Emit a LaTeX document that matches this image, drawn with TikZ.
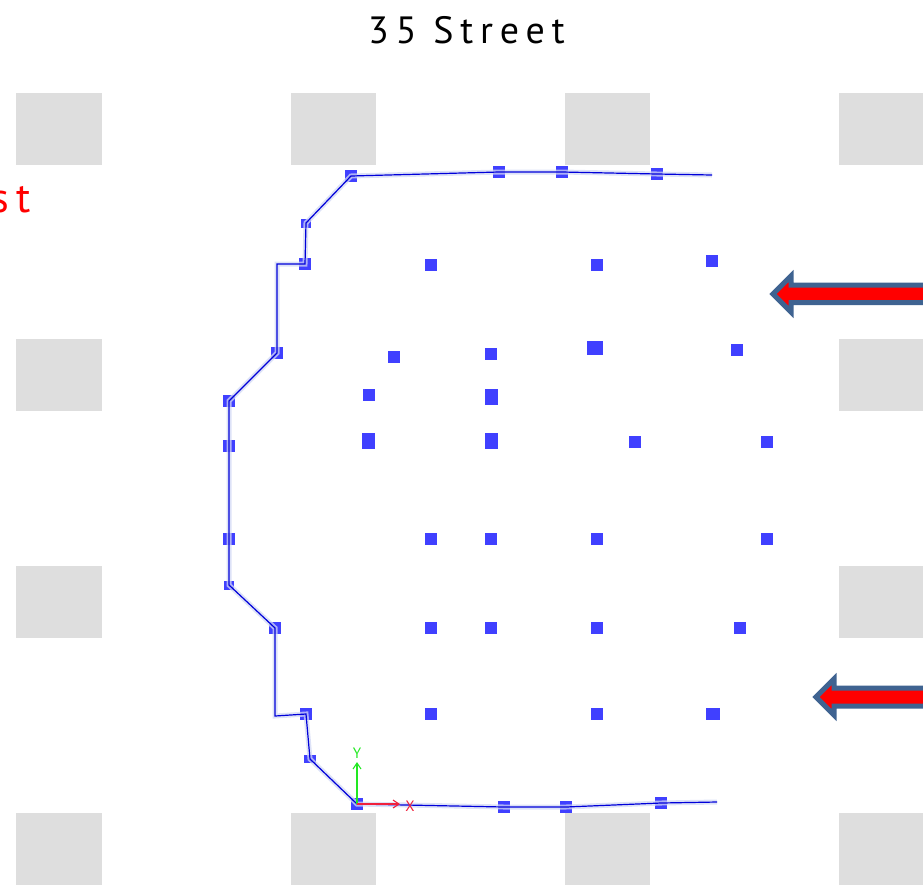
\documentclass[tikz,border=0pt]{standalone}
\usepackage{fontspec}
\setmainfont{PT Sans}
\newfontfamily\spaced[LetterSpace=18]{PT Sans}
\usetikzlibrary{arrows.meta}
\definecolor{blockgrey}{HTML}{DEDEDE}
\definecolor{padblue}{HTML}{4040FF}
\definecolor{haloblue}{HTML}{D2D8F4}
\definecolor{arrowedge}{HTML}{3F6391}
\definecolor{axisgreen}{HTML}{22E822}
\definecolor{axisred}{HTML}{F0203C}
\tikzset{
  x=1pt,y=-1pt,
  block/.style={fill=blockgrey,draw=none,inner sep=0,minimum width=86pt,minimum height=72pt},
  pad/.style={fill=padblue,draw=none,inner sep=0,minimum width=12pt,minimum height=12pt},
  padtall/.style={pad,minimum width=13pt,minimum height=16pt},
  padbig/.style={pad,minimum width=16pt,minimum height=14pt},
  padsmall/.style={pad,minimum width=10pt,minimum height=9pt},
  halo/.style={draw=haloblue,line width=5pt,line join=miter,opacity=0.75},
  wall/.style={draw=blue!85!black,line width=1.2pt,line join=miter},
  windarrow/.style={draw=arrowedge,fill=red,line width=5pt,line join=miter},
  streetlabel/.style={font=\spaced\fontsize{38}{40}\selectfont,inner sep=0,anchor=base west}
}
\begin{document}
\begin{tikzpicture}
\useasboundingbox (0,0) rectangle (923,887);
\clip (0,0) rectangle (923,887);
% column blocks
\foreach \cy [count=\j] in {129,375,602,849} {
  \node[block] (ba\j) at (59,\cy) {};
  \node[block] (bd\j) at (882,\cy) {};
}
\foreach \cy [count=\j] in {129,849} {
  \node[block,minimum width=85pt] (bb\j) at (333.5,\cy) {};
  \node[block,minimum width=85pt] (bc\j) at (607.5,\cy) {};
}
% interior pads
\node[pad] (p1) at (431,265) {};
\node[pad] (p2) at (597,265) {};
\node[pad] (p3) at (712,261) {};
\node[pad] (p4) at (394,357) {};
\node[pad] (p5) at (491,354) {};
\node[padbig] (p6) at (595,348) {};
\node[pad] (p7) at (737,350) {};
\node[pad] (p8) at (368.5,395) {};
\node[padtall] (p9) at (491,397) {};
\node[padtall] (p10) at (368.5,441) {};
\node[padtall] (p11) at (491,441) {};
\node[pad] (p12) at (635,442) {};
\node[pad] (p13) at (767,442) {};
\node[pad] (p14) at (431,539) {};
\node[pad] (p15) at (491,539) {};
\node[pad] (p16) at (597,539) {};
\node[pad] (p17) at (767,539) {};
\node[pad] (p18) at (431,628) {};
\node[pad] (p19) at (491,628) {};
\node[pad] (p20) at (597,628) {};
\node[pad] (p21) at (740,628) {};
\node[pad] (p22) at (431,714) {};
\node[pad] (p23) at (597,714) {};
\node[pad,minimum width=14pt] (p24) at (713,714) {};
% wall pads
\node[pad] (w1) at (657,174) {};
\node[pad] (w2) at (562,172) {};
\node[pad] (w3) at (499,172) {};
\node[pad] (w4) at (351,176) {};
\node[padsmall] (w5) at (306,223) {};
\node[pad] (w6) at (305,264) {};
\node[pad] (w7) at (277,353) {};
\node[pad] (w8) at (229,401) {};
\node[pad] (w9) at (229,446) {};
\node[pad] (w10) at (229,539) {};
\node[padsmall] (w11) at (229,585) {};
\node[pad] (w12) at (275,628) {};
\node[pad] (w13) at (306,714) {};
\node[pad,minimum height=8pt] (w14) at (310,759) {};
\node[pad] (w15) at (357,804) {};
\node[pad] (w16) at (504,807) {};
\node[pad] (w17) at (566,807) {};
\node[pad] (w18) at (661,803) {};
% free wall vertices
\coordinate (e1) at (712,175);
\coordinate (c1) at (277,264);
\coordinate (c2) at (275,716);
\coordinate (e2) at (717,802);
% wall polyline
\foreach \st in {halo,wall}
  \draw[\st] (e1) -- (w1.center) -- (w2.center) -- (w3.center) -- (w4.center) -- (w5.center)
    -- (w6.center) -- (c1) -- (w7.center) -- (w8.center) -- (w9.center) -- (w10.center)
    -- (w11.center) -- (w12.center) -- (c2) -- (w13.center) -- (w14.center) -- (w15.center)
    -- (w16.center) -- (w17.center) -- (w18.center) -- (e2);
% axes
\coordinate (ax) at (357,804);
\node[text=axisgreen,font=\fontsize{15}{15}\selectfont,inner sep=0] (ylab) at (357,753) {Y};
\node[text=axisred,font=\fontsize{15}{15}\selectfont,inner sep=0] (xlab) at (410,806) {X};
\draw[axisgreen,line width=1.1pt,-{Straight Barb[length=6pt,width=8pt]}] (ax) -- (357,762);
\draw[axisred,line width=1.1pt,-{Straight Barb[length=6pt,width=8pt]}] (ax) -- (400,804);
% wind arrows
\draw[windarrow] (930,285) -- (791,285) -- (791,276) -- (773,294) -- (791,312) -- (791,302.5) -- (930,302.5) -- cycle;
\draw[windarrow] (930,688) -- (834,688) -- (834,679) -- (816,697) -- (834,715) -- (834,706) -- (930,706) -- cycle;
% labels
\node[streetlabel] (street) at (368,43.5) {35 Street};
\node[streetlabel,text=red,font=\spaced\fontsize{42}{44}\selectfont] (side) at (-9,212) {st};
\end{tikzpicture}
\end{document}
